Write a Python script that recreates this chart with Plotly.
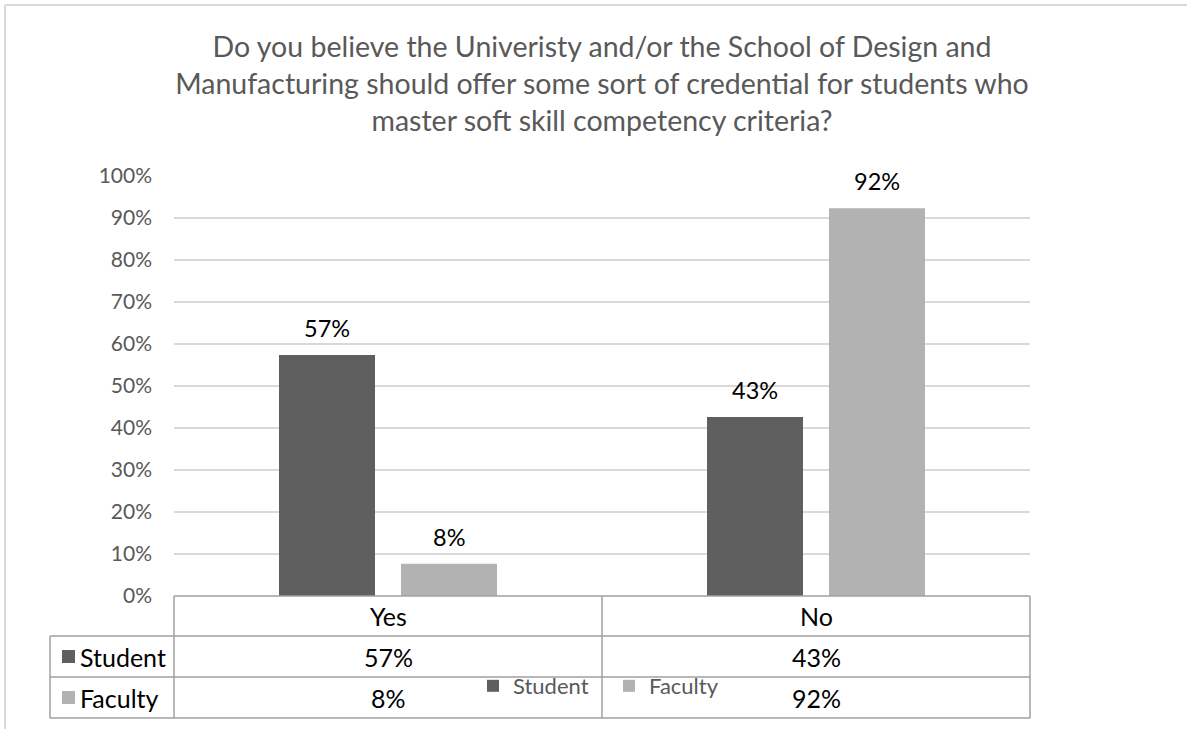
import plotly.graph_objects as go

# Survey responses (share of respondents)
categories = ["Yes", "No"]
series_names = ["Student", "Faculty"]
student_share = [0.574, 0.426]
faculty_share = [0.077, 0.923]
series_colors = ["#5f5f5f", "#b2b2b2"]
y_ticks = [0, 0.1, 0.2, 0.3, 0.4, 0.5, 0.6, 0.7, 0.8, 0.9, 1.0]

title_text = ("Do you believe the Univeristy and/or the School of Design and<br>"
              "Manufacturing should offer some sort of credential for students who<br>"
              "master soft skill competency criteria?")

FONT = "Lato, 'Open Sans', sans-serif"
W, H = 1187, 729
L, R, T, B = 174, 157, 176, 133          # plot-area margins in px
PW, PH = W - L - R, H - T - B

BARGAP, GROUPGAP = 0.43, 0.213


def px_x(p):
    return (p - L) / PW


def px_y(p):
    return (H - B - p) / PH


fig = go.Figure()
values = [student_share, faculty_share]
for name, vals, col in zip(series_names, values, series_colors):
    fig.add_trace(go.Bar(
        x=categories, y=vals, name=name,
        marker=dict(color=col, line=dict(width=0)),
        hoverinfo="skip",
    ))

# value labels above each bar (bar centres follow the grouped-bar geometry)
slot = (1 - BARGAP) / len(series_names)
annotations = []
for si, vals in enumerate(values):
    off = -(1 - BARGAP) / 2 + slot * (si + 0.5)
    for ci, v in enumerate(vals):
        annotations.append(dict(
            x=ci + off, y=v, xref="x", yref="y", text=f"{v:.0%}",
            showarrow=False, xanchor="center", yanchor="middle", yshift=27,
            font=dict(family=FONT, size=23.5, color="#000000"),
        ))

# data table under the plot
tbl_left = px_x(50)
row_edges = [0, px_y(636), px_y(677), px_y(718)]
line_col = "#a0a0a0"
shapes = []


def hline(x0, x1, y):
    shapes.append(dict(type="line", xref="paper", yref="paper", x0=x0, x1=x1,
                       y0=y, y1=y, line=dict(color=line_col, width=1.5)))


def vline(x, y0, y1):
    shapes.append(dict(type="line", xref="paper", yref="paper", x0=x, x1=x,
                       y0=y0, y1=y1, line=dict(color=line_col, width=1.5)))


hline(0, 1, row_edges[0])
for y in row_edges[1:]:
    hline(tbl_left, 1, y)
vline(tbl_left, row_edges[1], row_edges[3])
for ci in range(len(categories) + 1):
    vline(ci / len(categories), row_edges[0], row_edges[3])

TABLE_FONT = dict(family=FONT, size=25, color="#000000")

# header row
for ci, cat in enumerate(categories):
    annotations.append(dict(
        x=(ci + 0.5) / len(categories), y=(row_edges[0] + row_edges[1]) / 2,
        xref="paper", yref="paper", text=cat, showarrow=False,
        xanchor="center", yanchor="middle", font=TABLE_FONT))

# series rows
for si, (name, vals, col) in enumerate(zip(series_names, values, series_colors)):
    yc = (row_edges[si + 1] + row_edges[si + 2]) / 2
    shapes.append(dict(type="rect", xref="paper", yref="paper",
                       x0=px_x(62), x1=px_x(75), y0=yc - 6.5 / PH, y1=yc + 6.5 / PH,
                       fillcolor=col, line=dict(width=0)))
    annotations.append(dict(
        x=px_x(78), y=yc, xref="paper", yref="paper", text=name,
        xanchor="left", yanchor="middle", showarrow=False, font=TABLE_FONT))
    for ci, v in enumerate(vals):
        annotations.append(dict(
            x=(ci + 0.5) / len(categories), y=yc, xref="paper", yref="paper",
            text=f"{v:.0%}", showarrow=False,
            xanchor="center", yanchor="middle", font=TABLE_FONT))

# outer chart frame (top and left edges)
shapes.append(dict(type="line", xref="paper", yref="paper",
                   x0=px_x(5), x1=px_x(W), y0=px_y(5), y1=px_y(5),
                   line=dict(color="#d9d9d9", width=2)))
shapes.append(dict(type="line", xref="paper", yref="paper",
                   x0=px_x(5), x1=px_x(5), y0=px_y(5), y1=px_y(H),
                   line=dict(color="#d9d9d9", width=2)))

fig.update_layout(
    width=W, height=H,
    margin=dict(l=L, r=R, t=T, b=B),
    paper_bgcolor="white", plot_bgcolor="white",
    barmode="group", bargap=BARGAP, bargroupgap=GROUPGAP,
    title=dict(text=title_text, x=0.5, xref="paper", xanchor="center",
               y=1 - 57 / H, yref="container", yanchor="top",
               font=dict(family=FONT, size=28.5, color="#595959")),
    font=dict(family=FONT, color="#595959"),
    xaxis=dict(showticklabels=False, showgrid=False, showline=False,
               zeroline=False, ticks=""),
    yaxis=dict(range=[0, 1], tickvals=y_ticks, tickformat=".0%",
               showgrid=True, gridcolor="#d9d9d9", gridwidth=1.5,
               zeroline=False, showline=False, ticks="",
               ticklabelstandoff=21,
               tickfont=dict(family=FONT, size=21, color="#595959")),
    showlegend=True,
    legend=dict(orientation="h", x=px_x(473), y=px_y(686), yanchor="middle",
                xanchor="left", bgcolor="rgba(0,0,0,0)", entrywidth=91,
                font=dict(family=FONT, size=22, color="#595959")),
    annotations=annotations, shapes=shapes,
)

fig.write_html("out.html")
